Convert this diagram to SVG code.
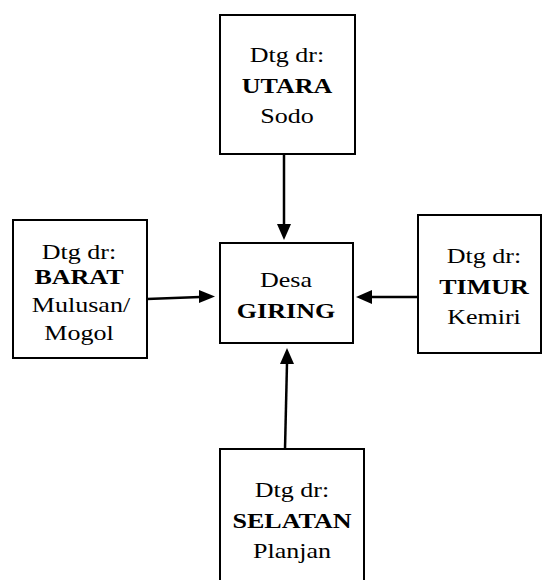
<svg xmlns="http://www.w3.org/2000/svg" width="543" height="580" viewBox="0 0 543 580">
<style>
.box{fill:#fff;stroke:#000;stroke-width:2}
.t{font-family:"Liberation Serif","Times New Roman",serif;font-size:21px;fill:#000;text-anchor:middle}
.b{font-weight:bold}
.c{stroke:#000;stroke-width:2.5;fill:none}
</style>
<rect width="543" height="580" fill="#fff"/>
<g id="connectors">
<line class="c" x1="284" y1="154" x2="284" y2="226"/>
<path d="M277,224 L291,224 L284,240 Z"/>
<line class="c" x1="147" y1="299" x2="200" y2="297"/>
<path d="M199,290 L215,296.5 L199,303 Z"/>
<line class="c" x1="419" y1="297" x2="372" y2="297"/>
<path d="M372,290 L356,297 L372,304 Z"/>
<line class="c" x1="285" y1="449" x2="287" y2="363"/>
<path d="M280,364 L294,364 L287,348 Z"/>
</g>
<g id="north">
<rect class="box" x="220" y="15" width="135" height="139"/>
<text class="t" transform="translate(287,62) scale(1.24,1)">Dtg dr:</text>
<text class="t b" transform="translate(287,93) scale(1.24,1)">UTARA</text>
<text class="t" transform="translate(287,123) scale(1.24,1)">Sodo</text>
</g>
<g id="west">
<rect class="box" x="13" y="220" width="134" height="138"/>
<text class="t" transform="translate(79,259) scale(1.24,1)">Dtg dr:</text>
<text class="t b" transform="translate(79,284) scale(1.24,1)">BARAT</text>
<text class="t" transform="translate(81,312) scale(1.24,1)">Mulusan/</text>
<text class="t" transform="translate(79,340) scale(1.24,1)">Mogol</text>
</g>
<g id="center">
<rect class="box" x="220" y="243" width="133" height="100"/>
<text class="t" transform="translate(286,287) scale(1.24,1)">Desa</text>
<text class="t b" transform="translate(286,318) scale(1.24,1)">GIRING</text>
</g>
<g id="east">
<rect class="box" x="418" y="215" width="123" height="138"/>
<text class="t" transform="translate(484,263) scale(1.24,1)">Dtg dr:</text>
<text class="t b" transform="translate(484,294) scale(1.24,1)">TIMUR</text>
<text class="t" transform="translate(484,324) scale(1.24,1)">Kemiri</text>
</g>
<g id="south">
<rect class="box" x="220" y="449" width="144" height="140"/>
<text class="t" transform="translate(292,497) scale(1.24,1)">Dtg dr:</text>
<text class="t b" transform="translate(292,528) scale(1.24,1)">SELATAN</text>
<text class="t" transform="translate(292,558) scale(1.24,1)">Planjan</text>
</g>
</svg>
